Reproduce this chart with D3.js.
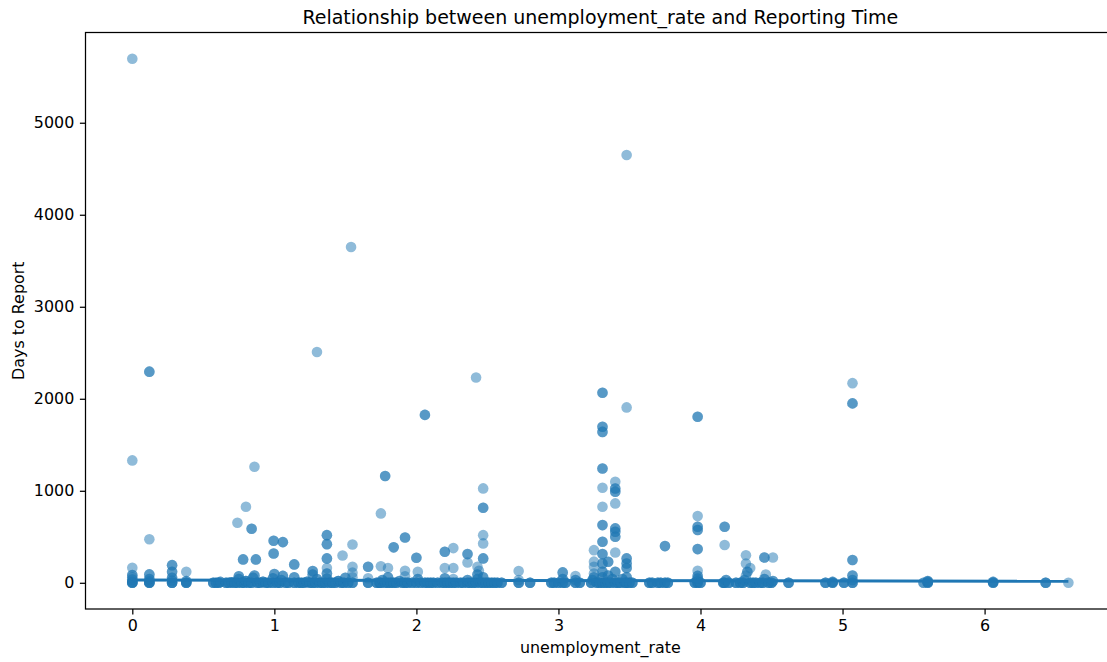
<!DOCTYPE html>
<html>
<head>
<meta charset="utf-8">
<script src="https://cdn.jsdelivr.net/npm/d3@7"></script>
<style>
  body { margin: 0; background: #fff; }
  svg { display: block; font-family: "DejaVu Sans", sans-serif; }
</style>
</head>
<body>
<div id="chart"></div>
<script>
// [unemployment_rate, days to report]
const highPoints = [
  [0, 5696], [3.48, 4649], [1.54, 3649], [1.30, 2508], [0.12, 2295], [0.12, 2295],
  [2.42, 2232], [5.07, 2170], [3.31, 2065], [3.31, 2065], [5.07, 1950], [5.07, 1950],
  [3.48, 1906], [2.06, 1825], [2.06, 1825], [3.98, 1805], [3.98, 1805],
  [3.31, 1696], [3.31, 1696], [3.31, 1640], [3.31, 1640]
];

const midPoints = [
  [0, 1330], [0, 163], [0.12, 474], [0.28, 192], [0.28, 192], [0.38, 120],
  [0.86, 1261], [0.80, 826], [0.74, 652], [0.84, 587], [0.84, 587],
  [0.78, 254], [0.78, 254], [0.87, 254], [0.87, 254],
  [0.995, 457], [0.995, 457], [1.06, 442], [1.06, 442], [0.995, 319], [0.995, 319],
  [1.14, 200], [1.14, 200], [1.27, 127], [1.27, 127],
  [1.37, 518], [1.37, 518], [1.37, 420], [1.37, 420], [1.37, 265], [1.37, 265],
  [1.37, 160], [1.48, 297], [1.55, 417], [1.55, 175],
  [1.66, 174], [1.66, 174], [1.75, 754], [1.78, 1160], [1.78, 1160], [1.75, 180],
  [1.80, 160], [1.92, 493], [1.92, 493], [1.84, 385], [1.84, 385], [2.0, 272], [2.0, 272],
  [1.92, 130], [2.01, 120],
  [2.20, 337], [2.20, 337], [2.26, 377], [2.20, 160], [2.26, 160], [2.36, 312], [2.36, 312],
  [2.36, 220], [2.43, 174], [2.47, 1026], [2.47, 815], [2.47, 815], [2.47, 518],
  [2.47, 428], [2.47, 265], [2.47, 265],
  [2.72, 127], [3.03, 113], [3.03, 113], [3.12, 73],
  [3.25, 355], [3.25, 230], [3.25, 175],
  [3.31, 1243], [3.31, 1243], [3.31, 1033], [3.31, 826], [3.31, 627], [3.31, 627],
  [3.31, 446], [3.31, 446], [3.31, 312], [3.31, 312], [3.31, 210], [3.31, 210],
  [3.40, 1098], [3.40, 1025], [3.40, 1025], [3.40, 990], [3.40, 990], [3.40, 863],
  [3.40, 591], [3.40, 591], [3.40, 555], [3.40, 555], [3.40, 500], [3.40, 500],
  [3.40, 330], [3.35, 228], [3.35, 228],
  [3.48, 265], [3.48, 265], [3.48, 210], [3.48, 210], [3.48, 160], [3.48, 160],
  [3.75, 399], [3.75, 399],
  [3.98, 725], [3.98, 609], [3.98, 609], [3.98, 573], [3.98, 573], [3.98, 366], [3.98, 366],
  [3.98, 130],
  [4.17, 609], [4.17, 609], [4.17, 410],
  [4.32, 300], [4.32, 210], [4.35, 160], [4.45, 275], [4.45, 275], [4.51, 275],
  [5.07, 247], [5.07, 247]
];

// [unemployment_rate, days to report, how many reports sit on that spot]
const lowPoints = [
  [0, 0, 4], [0, 12, 2], [0, 35, 2], [0, 60, 1], [0, 85, 2],
  [0.12, 0, 4], [0.12, 15, 2], [0.12, 40, 2], [0.12, 91, 2],
  [0.28, 0, 4], [0.28, 25, 2], [0.28, 55, 2], [0.28, 120, 2],
  [0.38, 0, 4], [0.38, 18, 2],
  [0.57, 0, 3], [0.59, 0, 3], [0.61, 0, 3], [0.62, 10, 2],
  [0.66, 0, 3], [0.68, 0, 3], [0.70, 5, 3], [0.72, 0, 3], [0.74, 0, 3], [0.75, 40, 2], [0.75, 70, 2],
  [0.77, 0, 3], [0.79, 0, 3], [0.80, 20, 3], [0.82, 0, 3], [0.84, 0, 3], [0.85, 55, 2], [0.86, 80, 2],
  [0.88, 0, 3], [0.90, 0, 3], [0.92, 10, 3], [0.94, 0, 3], [0.96, 0, 3], [0.99, 0, 3], [0.99, 50, 2],
  [1.0, 95, 2], [1.02, 0, 3], [1.04, 0, 3], [1.05, 30, 2], [1.06, 75, 2], [1.08, 0, 3], [1.10, 0, 3],
  [1.14, 0, 3], [1.14, 60, 2], [1.17, 0, 3], [1.19, 0, 3], [1.21, 0, 3], [1.23, 10, 3], [1.25, 0, 3],
  [1.27, 0, 3], [1.27, 90, 2], [1.29, 0, 3], [1.30, 40, 2], [1.32, 0, 3], [1.34, 0, 3], [1.36, 0, 3],
  [1.37, 45, 2], [1.37, 100, 2], [1.39, 0, 3], [1.41, 0, 3], [1.43, 0, 3], [1.45, 20, 3], [1.47, 0, 3],
  [1.49, 0, 3], [1.50, 55, 2], [1.52, 0, 3], [1.55, 0, 3], [1.55, 60, 1], [1.55, 110, 1],
  [1.66, 0, 3], [1.66, 50, 1], [1.72, 0, 3], [1.74, 0, 3], [1.75, 0, 3], [1.76, 30, 2], [1.78, 0, 3],
  [1.80, 0, 3], [1.80, 60, 2], [1.82, 0, 3], [1.84, 0, 3], [1.86, 0, 3], [1.88, 20, 2], [1.90, 0, 3],
  [1.92, 0, 3], [1.92, 70, 1], [1.94, 0, 3], [1.97, 0, 3], [2.0, 0, 3], [2.01, 40, 2], [2.03, 0, 3],
  [2.06, 0, 3], [2.08, 0, 3], [2.10, 0, 3], [2.12, 0, 3], [2.15, 0, 3], [2.18, 0, 3], [2.20, 0, 3],
  [2.20, 50, 2], [2.22, 0, 3], [2.24, 0, 3], [2.26, 0, 3], [2.26, 40, 1], [2.28, 0, 3], [2.31, 0, 3],
  [2.33, 0, 3], [2.36, 0, 3], [2.36, 30, 2], [2.38, 0, 3], [2.40, 0, 3], [2.42, 0, 3], [2.43, 40, 2],
  [2.43, 90, 2], [2.44, 130, 1], [2.45, 0, 3], [2.47, 0, 3], [2.47, 60, 2], [2.49, 0, 3], [2.51, 0, 3],
  [2.53, 0, 3], [2.55, 0, 3], [2.57, 0, 3], [2.60, 0, 3],
  [2.72, 0, 3], [2.72, 30, 1], [2.80, 0, 3], [2.95, 0, 3], [2.97, 0, 3], [3.00, 0, 3], [3.03, 0, 3],
  [3.03, 40, 2], [3.05, 0, 3], [3.12, 0, 3], [3.12, 30, 2], [3.15, 0, 3],
  [3.23, 0, 3], [3.24, 30, 2], [3.25, 60, 2], [3.25, 100, 1], [3.27, 0, 3], [3.29, 0, 3], [3.31, 0, 3],
  [3.31, 60, 2], [3.31, 120, 2], [3.33, 0, 3], [3.35, 0, 3], [3.35, 80, 2], [3.37, 0, 3], [3.38, 40, 2],
  [3.40, 0, 3], [3.40, 120, 2], [3.42, 0, 3], [3.44, 0, 3], [3.45, 40, 2], [3.47, 0, 3], [3.48, 0, 3],
  [3.48, 60, 2], [3.50, 0, 3], [3.52, 0, 3],
  [3.64, 0, 3], [3.66, 0, 3], [3.70, 0, 3], [3.72, 0, 3], [3.75, 0, 3], [3.77, 0, 3],
  [3.96, 0, 3], [3.98, 0, 3], [3.98, 20, 2], [3.98, 45, 2], [3.98, 75, 2], [4.0, 0, 3],
  [4.16, 0, 3], [4.17, 0, 3], [4.18, 30, 2], [4.20, 0, 3],
  [4.25, 0, 3], [4.28, 0, 3], [4.30, 0, 3], [4.31, 30, 2], [4.32, 80, 1], [4.33, 120, 2], [4.35, 0, 3],
  [4.37, 0, 3], [4.39, 0, 3], [4.42, 0, 3], [4.44, 0, 3], [4.45, 40, 2], [4.46, 90, 1], [4.48, 0, 3],
  [4.50, 0, 3], [4.51, 20, 2],
  [4.62, 0, 3], [4.88, 0, 3], [4.93, 0, 3], [4.93, 10, 2], [5.01, 0, 3], [5.07, 0, 3], [5.07, 30, 2],
  [5.07, 80, 2], [5.57, 0, 2], [5.60, 0, 3], [5.60, 10, 2], [5.60, 20, 2], [6.06, 0, 3], [6.06, 10, 2],
  [6.43, 0, 3], [6.59, 0, 1]
];

// fitted regression line (start / end)
const fitLine = [[0, 30], [6.59, 17]];

const xTicks = [0, 1, 2, 3, 4, 5, 6];
const yTicks = [0, 1000, 2000, 3000, 4000, 5000];

const titleText = "Relationship between unemployment_rate and Reporting Time";
const xLabel = "unemployment_rate";
const yLabel = "Days to Report";

const W = 1107, H = 662;
const margin = { left: 85.5, top: 32.5 };
const plotW = 1029.7, plotH = 576.5;
const blue = "#1f77b4";

// expand the stacked low values into single reports
const lowExpanded = lowPoints.flatMap((d) => d3.range(d[2]).map(() => [d[0], d[1]]));
const allPoints = lowExpanded.concat(midPoints, highPoints);

// matplotlib style 5% margins
const xExt = d3.extent(allPoints, (d) => d[0]);
const yExt = d3.extent(allPoints, (d) => d[1]);
const xPad = (xExt[1] - xExt[0]) * 0.05;
const yPad = (yExt[1] - yExt[0]) * 0.05;

const x = d3.scaleLinear()
  .domain([xExt[0] - xPad, xExt[1] + xPad])
  .range([margin.left, margin.left + plotW]);
const y = d3.scaleLinear()
  .domain([yExt[0] - yPad, yExt[1] + yPad])
  .range([margin.top + plotH, margin.top]);

const svg = d3.select("#chart").append("svg")
  .attr("width", W)
  .attr("height", H);

svg.append("defs").append("clipPath").attr("id", "plot-clip")
  .append("rect")
  .attr("x", margin.left).attr("y", margin.top)
  .attr("width", plotW).attr("height", plotH);

const plot = svg.append("g").attr("clip-path", "url(#plot-clip)");

plot.selectAll("circle")
  .data(allPoints)
  .enter()
  .append("circle")
  .attr("cx", (d) => x(d[0]))
  .attr("cy", (d) => y(d[1]))
  .attr("r", 5.3)
  .attr("fill", blue)
  .attr("fill-opacity", 0.5);

plot.append("path")
  .datum(fitLine)
  .attr("fill", "none")
  .attr("stroke", blue)
  .attr("stroke-width", 3)
  .attr("d", d3.line().x((d) => x(d[0])).y((d) => y(d[1])));

// axes
const xAxis = svg.append("g")
  .attr("transform", `translate(0,${margin.top + plotH})`)
  .call(d3.axisBottom(x).tickValues(xTicks).tickSize(5.6).tickPadding(5.2).tickFormat(d3.format("d")));
const yAxis = svg.append("g")
  .attr("transform", `translate(${margin.left},0)`)
  .call(d3.axisLeft(y).tickValues(yTicks).tickSize(5.6).tickPadding(5.6).tickFormat(d3.format("d")));

[xAxis, yAxis].forEach((g) => {
  g.select(".domain").remove();
  g.selectAll(".tick line").attr("stroke", "#000").attr("stroke-width", 1.25);
  g.selectAll(".tick text")
    .attr("fill", "#000")
    .style("font-family", "DejaVu Sans")
    .style("font-size", "15.9px");
});

// spines
svg.append("rect")
  .attr("x", margin.left).attr("y", margin.top)
  .attr("width", plotW).attr("height", plotH)
  .attr("fill", "none")
  .attr("stroke", "#000")
  .attr("stroke-width", 1.25);

svg.append("text")
  .attr("x", margin.left + plotW / 2)
  .attr("y", 24)
  .attr("text-anchor", "middle")
  .style("font-size", "19px")
  .text(titleText);

svg.append("text")
  .attr("x", margin.left + plotW / 2)
  .attr("y", 653)
  .attr("text-anchor", "middle")
  .style("font-size", "15.9px")
  .text(xLabel);

svg.append("text")
  .attr("transform", `translate(23.5,${margin.top + plotH / 2}) rotate(-90)`)
  .attr("text-anchor", "middle")
  .style("font-size", "15.9px")
  .text(yLabel);
</script>
</body>
</html>
